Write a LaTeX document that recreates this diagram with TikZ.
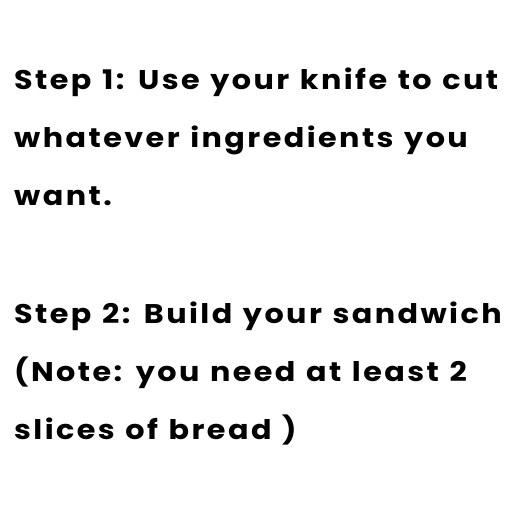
\documentclass[tikz,border=0pt]{standalone}
\usepackage{fontspec}
\setmainfont{Poppins}[LetterSpace=9,FakeStretch=1.12,WordSpace=1.2]
\begin{document}
\begin{tikzpicture}[x=1pt,y=1pt,
  txt/.style={anchor=base west,inner sep=0pt,font=\fontsize{27}{30}\selectfont\bfseries}]
\useasboundingbox[fill=white] (0,0) rectangle (512,512);
\node[txt] (l1) at (14,512-90) {Step 1: Use your knife to cut};
\node[txt] (l2) at (14,512-148) {whatever ingredients you};
\node[txt] (l3) at (14,512-206) {want.};
\node[txt] (l4) at (14,512-324) {Step 2: Build your sandwich};
\node[txt] (l5) at (14,512-382) {(Note: you need at least 2};
\node[txt] (l6) at (14,512-440) {slices of bread )};
\end{tikzpicture}
\end{document}
